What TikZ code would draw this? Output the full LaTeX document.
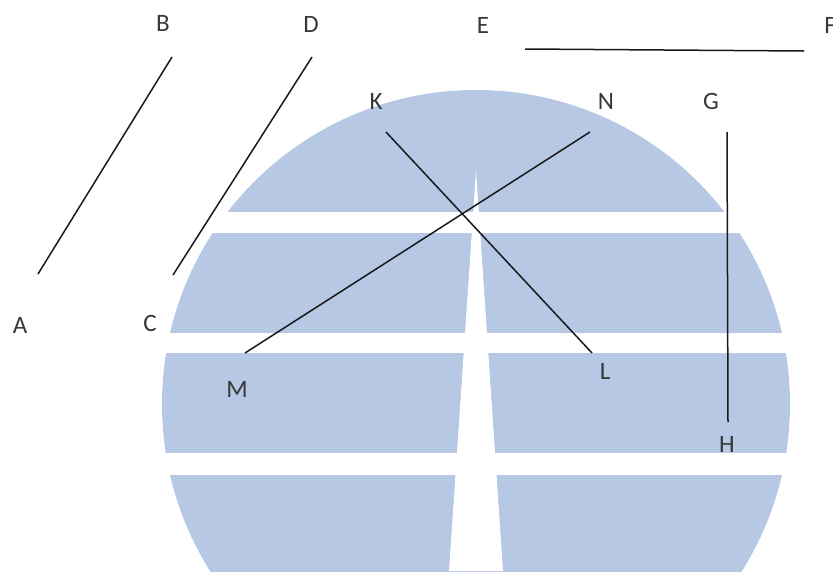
\documentclass[tikz,border=0pt]{standalone}
\usepackage{fontspec}
\setmainfont{Carlito}
\definecolor{discblue}{RGB}{182,200,228}
\tikzset{
  lbl/.style={font=\fontsize{25}{30}\selectfont, text=black!78, inner sep=0pt},
  seg/.style={line width=1.5pt, black!90}
}
\begin{document}
\begin{tikzpicture}[x=1pt,y=-1pt]
        \useasboundingbox (0,0) rectangle (833,571);
        % Disc with white gaps
        \begin{scope}
            \clip (0,0) rectangle (833,571);
            \fill[discblue] (476,404) circle[radius=314pt];
            \fill[white] (0,212) rectangle (833,233);
            \fill[white] (0,333) rectangle (833,353);
            \fill[white] (0,453) rectangle (833,475);
            \fill[white] (476,170) -- (503,571) -- (449,571) -- cycle;
        \end{scope}

        % End points
        \coordinate (pA) at (38,274);
        \coordinate (pB) at (172,57);
        \coordinate (pC) at (173,275);
        \coordinate (pD) at (312,57);
        \coordinate (pE) at (525,49);
        \coordinate (pF) at (804,51);
        \coordinate (pK) at (386,132);
        \coordinate (pL) at (592,353);
        \coordinate (pM) at (245,353);
        \coordinate (pN) at (590,132);
        \coordinate (pG) at (727,132);
        \coordinate (pH) at (728,422);

        % Segments
        \draw[seg] (pA) -- (pB);
        \draw[seg] (pC) -- (pD);
        \draw[seg] (pE) -- (pF);
        \draw[seg] (pK) -- (pL);
        \draw[seg] (pM) -- (pN);
        \draw[seg] (pG) -- (pH);

        % Labels
        \node[lbl] (A) at (20,325) {A};
        \node[lbl] (B) at (163,23) {B};
        \node[lbl] (C) at (150,323) {C};
        \node[lbl] (D) at (311,24) {D};
        \node[lbl] (E) at (483,25) {E};
        \node[lbl] (F) at (830,25) {F};
        \node[lbl] (K) at (376,101) {K};
        \node[lbl] (N) at (606,101) {N};
        \node[lbl] (G) at (711,101) {G};
        \node[lbl] (L) at (605,371) {L};
        \node[lbl] (M) at (237,389) {M};
        \node[lbl] (H) at (727,444) {H};
    \end{tikzpicture}
\end{document}
